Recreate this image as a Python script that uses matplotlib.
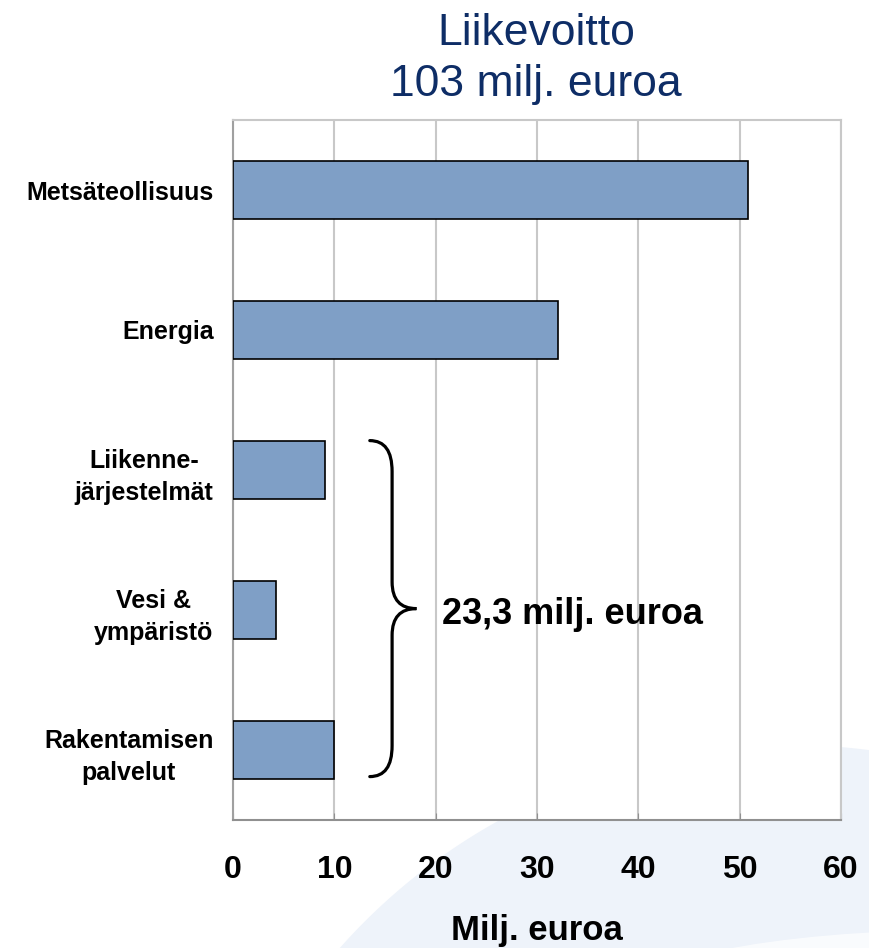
import matplotlib
matplotlib.use("Agg")
import matplotlib.pyplot as plt
from matplotlib.path import Path
from matplotlib.patches import PathPatch, Polygon, Ellipse
import numpy as np

plt.rcParams['font.family'] = ['Liberation Sans', 'DejaVu Sans']

categories = ["Metsäteollisuus", "Energia", "Liikenne-\njärjestelmät",
              "Vesi &\nympäristö", "Rakentamisen\npalvelut"]
values = [50.8, 32.1, 9.1, 4.2, 10.0]
xticks = [0, 10, 20, 30, 40, 50, 60]
title_text = "Liikevoitto\n103 milj. euroa"
xlabel_text = "Milj. euroa"
group_text = "23,3 milj. euroa"

W, H = 869, 948
fig = plt.figure(figsize=(W / 100, H / 100), dpi=100)
fig.patch.set_facecolor("white")

# decorative light-blue swoosh in background
bg = fig.add_axes([0, 0, 1, 1], zorder=0)
bg.set_xlim(0, W)
bg.set_ylim(H, 0)
bg.axis("off")
cx, cy, r = 791, 1348, 603
ang = np.linspace(np.deg2rad(212), np.deg2rad(285), 120)
arc_x = cx + r * np.cos(ang)
arc_y = cy + r * np.sin(ang)
pts = list(zip(arc_x, arc_y)) + [(W + 300, 700), (W + 300, H + 50), (0, H + 50)]
bg.add_patch(Polygon(pts, closed=True, facecolor="#EEF3FA", edgecolor="none"))
bg.add_patch(Ellipse((960, 1000), 680, 140, facecolor="white", edgecolor="none", alpha=0.7))

ax = fig.add_axes([233 / W, 1 - 820 / H, 608 / W, 700 / H], zorder=1)
ax.set_facecolor("white")

ypos = np.arange(len(categories))
ax.barh(ypos, values, height=0.41, color="#7F9FC6", edgecolor="black",
        linewidth=1.2, zorder=3)

ax.set_xlim(0, 60)
ax.set_ylim(len(categories) - 0.5, -0.5)
ax.set_xticks(xticks)
ax.set_xticklabels([str(v) for v in xticks], fontsize=23, fontweight="bold")
ax.set_yticks(ypos)
ax.set_yticklabels(categories, fontsize=18, fontweight="bold",
                   multialignment="center", linespacing=1.45)
ax.tick_params(axis="y", length=0, pad=14)
ax.tick_params(axis="x", direction="in", length=5, color="#909090", pad=25)
ax.xaxis.grid(True, color="#C8C8C8", linewidth=1.5, zorder=0)
ax.set_axisbelow(True)
for s in ["top", "right"]:
    ax.spines[s].set_color("#C8C8C8")
    ax.spines[s].set_linewidth(1.5)
ax.spines["left"].set_color("#A0A0A0")
ax.spines["left"].set_linewidth(1.5)
ax.spines["bottom"].set_color("#909090")
ax.spines["bottom"].set_linewidth(1.5)

ax.set_xlabel(xlabel_text, fontsize=25, fontweight="bold", labelpad=21)

# brace spanning the three smaller segments
x0, x1, x2 = 13.5, 15.7, 18.1
yt, ym, yb = 1.79, 2.99, 4.19
verts = [(x0, yt), (x1, yt), (x1, yt + 0.22),
         (x1, ym - 0.19),
         (x1, ym), (x2, ym),
         (x1, ym), (x1, ym + 0.19),
         (x1, yb - 0.22),
         (x1, yb), (x0, yb)]
codes = [Path.MOVETO, Path.CURVE3, Path.CURVE3,
         Path.LINETO,
         Path.CURVE3, Path.CURVE3,
         Path.CURVE3, Path.CURVE3,
         Path.LINETO,
         Path.CURVE3, Path.CURVE3]
ax.add_patch(PathPatch(Path(verts, codes), facecolor="none", edgecolor="black",
                       linewidth=2.3, zorder=4, capstyle="round"))
ax.text(20.6, 3.03, group_text, fontsize=26, fontweight="bold",
        ha="left", va="center", zorder=5)

fig.text(536 / W, 1 - 59 / H, title_text, fontsize=32, color="#0E2D66",
         ha="center", va="center", linespacing=1.32)

fig.savefig("out.png", dpi=100, facecolor=fig.get_facecolor())
